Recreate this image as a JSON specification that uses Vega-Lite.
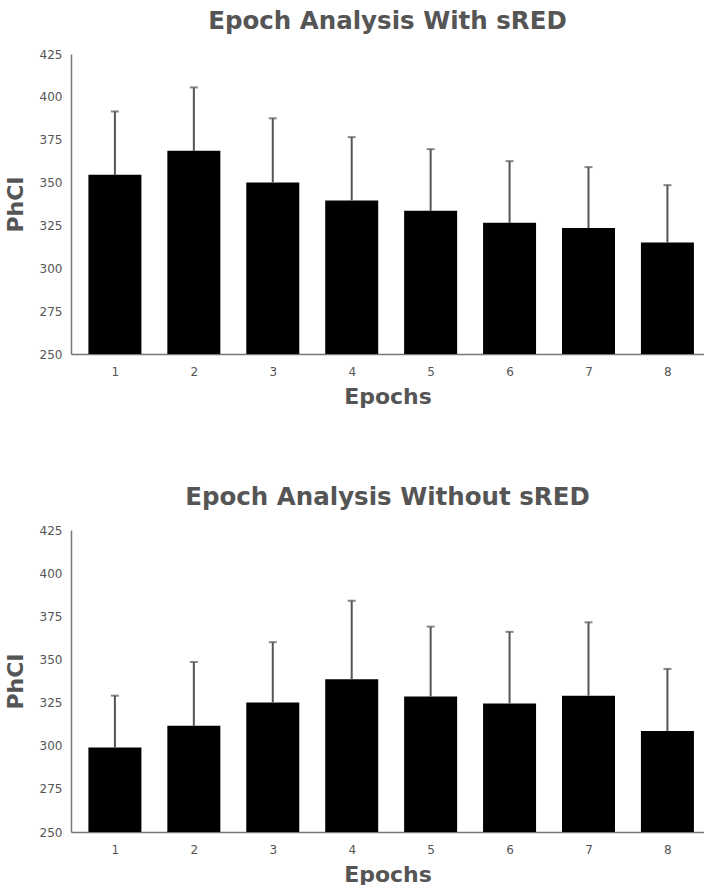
{
  "$schema": "https://vega.github.io/schema/vega-lite/v6.json",
  "padding": {"left": 4, "top": 8, "right": 0, "bottom": 0},
  "background": "white",
  "spacing": 77,
  "config": {
    "view": {"stroke": null},
    "font": "DejaVu Sans",
    "title": {"fontSize": 24.5, "fontWeight": "bold", "color": "#555555", "offset": 14, "anchor": "middle", "font": "DejaVu Sans"},
    "axis": {"grid": false, "ticks": false, "domainColor": "#777777", "domainWidth": 1.5, "labelColor": "#555555", "labelFontSize": 12, "labelFont": "DejaVu Sans", "titleColor": "#555555", "titleFontSize": 22, "titleFontWeight": "bold", "titleFont": "DejaVu Sans"}
  },
  "vconcat": [
    {
      "title": "Epoch Analysis With sRED",
      "width": 633,
      "height": 300,
      "data": {"values": [
        {"epoch": 1, "mean": 354.5, "upper": 391.5},
        {"epoch": 2, "mean": 368.5, "upper": 405.5},
        {"epoch": 3, "mean": 350, "upper": 387.5},
        {"epoch": 4, "mean": 339.5, "upper": 376.5},
        {"epoch": 5, "mean": 333.5, "upper": 369.5},
        {"epoch": 6, "mean": 326.5, "upper": 362.5},
        {"epoch": 7, "mean": 323.5, "upper": 359},
        {"epoch": 8, "mean": 315, "upper": 348.5}
      ]},
      "encoding": {
        "x": {"field": "epoch", "type": "quantitative", "scale": {"domain": [0.507, 8.4], "nice": false, "zero": false}, "axis": {"values": [1, 2, 3, 4, 5, 6, 7, 8], "format": "d", "title": "Epochs", "labelPadding": 12, "titlePadding": 9}}
      },
      "layer": [
        {"mark": {"type": "bar", "color": "black", "size": 53}, "encoding": {"y": {"field": "mean", "type": "quantitative", "title": "PhCI", "scale": {"domain": [250, 425], "nice": false, "zero": false}, "axis": {"values": [250, 275, 300, 325, 350, 375, 400, 425], "labelPadding": 9, "titlePadding": 12}}, "y2": {"datum": 250}}},
        {"mark": {"type": "rule", "color": "#555555", "strokeWidth": 2}, "encoding": {"y": {"field": "mean", "type": "quantitative", "title": "PhCI"}, "y2": {"field": "upper"}}},
        {"mark": {"type": "tick", "color": "#555555", "orient": "horizontal", "size": 8, "thickness": 2}, "encoding": {"y": {"field": "upper", "type": "quantitative", "title": "PhCI"}}}
      ]
    },
    {
      "title": "Epoch Analysis Without sRED",
      "width": 633,
      "height": 302,
      "data": {"values": [
        {"epoch": 1, "mean": 299, "upper": 329},
        {"epoch": 2, "mean": 311.5, "upper": 348.5},
        {"epoch": 3, "mean": 325, "upper": 360},
        {"epoch": 4, "mean": 338.5, "upper": 384},
        {"epoch": 5, "mean": 328.5, "upper": 369},
        {"epoch": 6, "mean": 324.5, "upper": 366},
        {"epoch": 7, "mean": 329, "upper": 371.5},
        {"epoch": 8, "mean": 308.5, "upper": 344.5}
      ]},
      "encoding": {
        "x": {"field": "epoch", "type": "quantitative", "scale": {"domain": [0.507, 8.4], "nice": false, "zero": false}, "axis": {"values": [1, 2, 3, 4, 5, 6, 7, 8], "format": "d", "title": "Epochs", "labelPadding": 12, "titlePadding": 9}}
      },
      "layer": [
        {"mark": {"type": "bar", "color": "black", "size": 53}, "encoding": {"y": {"field": "mean", "type": "quantitative", "title": "PhCI", "scale": {"domain": [250, 425], "nice": false, "zero": false}, "axis": {"values": [250, 275, 300, 325, 350, 375, 400, 425], "labelPadding": 9, "titlePadding": 12}}, "y2": {"datum": 250}}},
        {"mark": {"type": "rule", "color": "#555555", "strokeWidth": 2}, "encoding": {"y": {"field": "mean", "type": "quantitative", "title": "PhCI"}, "y2": {"field": "upper"}}},
        {"mark": {"type": "tick", "color": "#555555", "orient": "horizontal", "size": 8, "thickness": 2}, "encoding": {"y": {"field": "upper", "type": "quantitative", "title": "PhCI"}}}
      ]
    }
  ]
}
